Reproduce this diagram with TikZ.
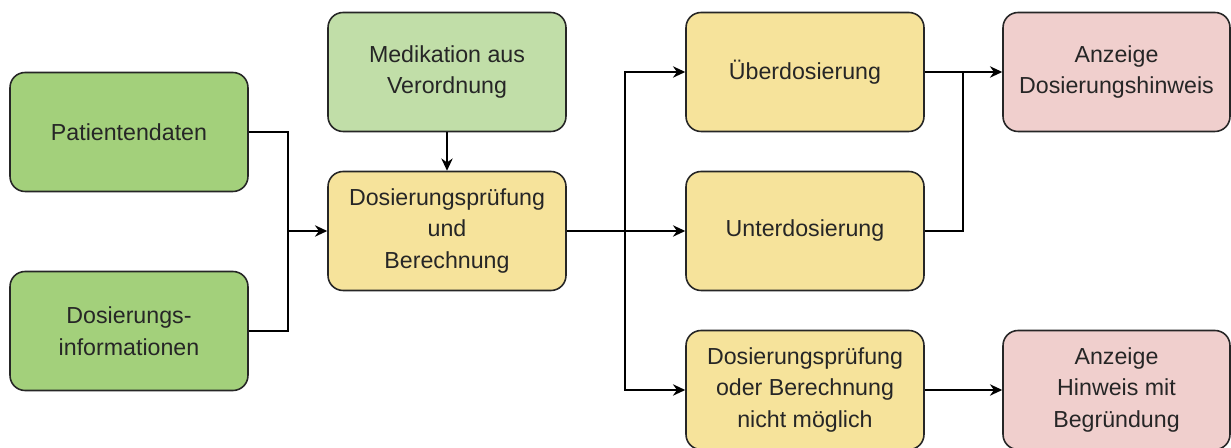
\documentclass[tikz,border=0pt]{standalone}
\usepackage{fontspec}
\setmainfont{Liberation Sans}
\usetikzlibrary{arrows.meta}
\definecolor{gruen}{HTML}{A3D07B}
\definecolor{hellgruen}{HTML}{C1DEA8}
\definecolor{gelb}{HTML}{F6E39B}
\definecolor{rosa}{HTML}{F0CFCD}
\begin{document}
\begin{tikzpicture}[x=0.02cm,y=-0.02cm,
    box/.style={draw=black!85,line width=0.9pt,rounded corners=0.3cm,
      minimum width=4.76cm,minimum height=2.38cm,align=center,
      text=black!85,font=\fontsize{13.2}{18}\selectfont},
    pfeil/.style={-{Stealth[length=7pt,width=6.5pt]},line width=0.9pt},
    linie/.style={line width=0.9pt}]
    \useasboundingbox (0,0) rectangle (1231,448);
    \node[box,fill=gruen] (pat) at (129,132) {Patientendaten};
    \node[box,fill=gruen] (dos) at (129,331) {Dosierungs-\\informationen};
    \node[box,fill=hellgruen] (med) at (447,72) {Medikation aus\\Verordnung};
    \node[box,fill=gelb] (pruef) at (447,231) {Dosierungsprüfung\\und\\Berechnung};
    \node[box,fill=gelb] (ueber) at (805,72) {Überdosierung};
    \node[box,fill=gelb] (unter) at (805,231) {Unterdosierung};
    \node[box,fill=gelb] (nicht) at (805,390) {Dosierungsprüfung\\oder Berechnung\\nicht möglich};
    \node[box,fill=rosa,minimum width=4.54cm] (anz) at (1116.5,72) {Anzeige\\Dosierungshinweis};
    \node[box,fill=rosa,minimum width=4.54cm] (hinw) at (1116.5,390) {Anzeige\\Hinweis mit\\Begründung};
    \coordinate (jl) at (288,231);
    \coordinate (js) at (625,231);
    \coordinate (jr) at (963,72);
    \draw [linie] (pat) -| (jl);
    \draw [linie] (dos) -| (jl);
    \draw [pfeil] (jl) -- (pruef);
    \draw [pfeil] (med) -- (pruef);
    \draw [pfeil] (pruef) -- (unter);
    \draw [pfeil] (js) |- (ueber);
    \draw [pfeil] (js) |- (nicht);
    \draw [pfeil] (ueber) -- (anz);
    \draw [linie] (unter) -| (jr);
    \draw [pfeil] (nicht) -- (hinw);
\end{tikzpicture}
\end{document}
